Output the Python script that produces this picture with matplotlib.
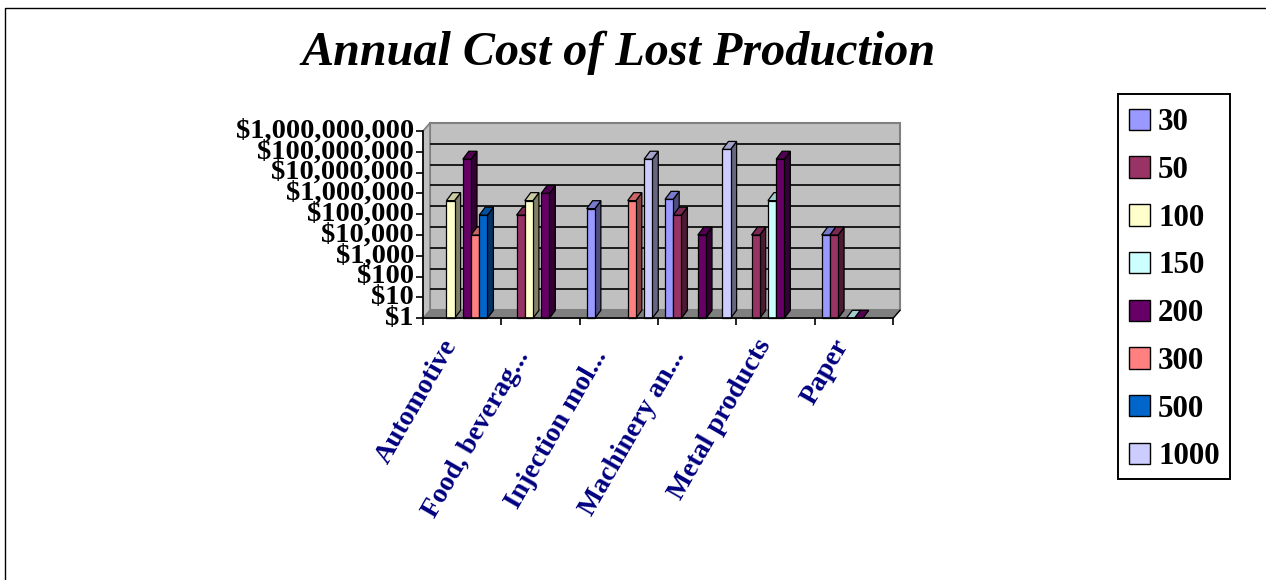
import matplotlib
matplotlib.use("Agg")
import matplotlib.pyplot as plt
import numpy as np
from matplotlib.patches import Polygon, Rectangle
from matplotlib.ticker import FixedLocator, FixedFormatter

categories = ["Automotive", "Food, beverag...", "Injection mol...", "Machinery an...", "Metal products", "Paper"]
series_names = ["30", "50", "100", "150", "200", "300", "500", "1000"]

# None = no bar in that category
s30 = [None, None, 185000, 520000, None, 10000]
s50 = [None, 90000, None, 90000, 10000, 10000]
s100 = [450000, 450000, None, None, None, None]
s150 = [None, None, None, None, 450000, 1]
s200 = [44000000, 1000000, None, 10000, 44000000, 1]
s300 = [10000, None, 450000, None, None, None]
s500 = [90000, None, None, None, None, None]
s1000 = [None, None, 44000000, 130000000, None, None]
all_series = [s30, s50, s100, s150, s200, s300, s500, s1000]

colors = ["#9999FF", "#993366", "#FFFFCC", "#CCFFFF", "#660066", "#FF8080", "#0066CC", "#CCCCFF"]
y_ticks = [10**i for i in range(10)]
y_labels = ["$1", "$10", "$100", "$1,000", "$10,000", "$100,000", "$1,000,000", "$10,000,000", "$100,000,000", "$1,000,000,000"]

W, H = 1266, 580
SERIF = "Liberation Serif"

# front plane of the fake 3d box, in pixels
LEFT, RIGHT, TOP, BOTTOM = 423, 893, 131, 318.3
WALL_DX, WALL_DY = 7, 8
BAR_DX, BAR_DY = 6, 8
BAR_W = 8.2 / 78.33
BAR_START = 7 / 78.33


def shade(color, f):
    rgb = np.array(matplotlib.colors.to_rgb(color))
    return tuple(rgb * f)


fig = plt.figure(figsize=(W / 100, H / 100), dpi=100)
fig.patch.set_facecolor("white")

# outer chart border, only left and top show
fig.add_artist(plt.Line2D([5.0 / W, 5.0 / W, 1], [0, 1 - 7.5 / H, 1 - 7.5 / H], transform=fig.transFigure,
                          color="black", lw=1.0))

fig.text(619 / W, 1 - 53 / H, "Annual Cost of Lost Production", family=SERIF, weight="bold",
         style="italic", fontsize=34.7, ha="center", va="center")

ax = fig.add_axes([LEFT / W, 1 - BOTTOM / H, (RIGHT - LEFT) / W, (BOTTOM - TOP) / H])
ax.set_yscale("log")
ax.set_ylim(1, 1e9)
ax.set_xlim(0, 6)
ax.patch.set_alpha(0)
for name in ["top", "right"]:
    ax.spines[name].set_visible(False)
for name in ["left", "bottom"]:
    ax.spines[name].set_linewidth(1.2)
    ax.spines[name].set_zorder(6)

ax.yaxis.set_major_locator(FixedLocator(y_ticks))
ax.yaxis.set_major_formatter(FixedFormatter(y_labels))
ax.yaxis.set_minor_locator(FixedLocator([]))
ax.tick_params(axis="y", length=5, width=1.2, pad=1.5)
for t in ax.get_yticklabels():
    t.set_fontfamily(SERIF)
    t.set_fontweight("bold")
    t.set_fontsize(20.5)
    t.set_verticalalignment("center")

ax.set_xticks(np.arange(7))
ax.set_xticklabels([])
ax.tick_params(axis="x", length=5, width=1.2)


def to_px(x, y):
    return ax.transData.transform((x, y))


x0, y0 = to_px(0, 1)
x1, y1 = to_px(6, 1e9)

box = [
    # back wall
    Polygon([(x0 + WALL_DX, y0 + WALL_DY), (x1 + WALL_DX, y0 + WALL_DY), (x1 + WALL_DX, y1 + WALL_DY), (x0 + WALL_DX, y1 + WALL_DY)],
            fc="#C0C0C0", ec="#808080", lw=1.5, transform=None),
    # side wall
    Polygon([(x0, y0), (x0 + WALL_DX, y0 + WALL_DY), (x0 + WALL_DX, y1 + WALL_DY), (x0, y1)],
            fc="#C0C0C0", ec="#808080", lw=1.2, transform=None),
    # floor
    Polygon([(x0, y0), (x1, y0), (x1 + WALL_DX, y0 + WALL_DY), (x0 + WALL_DX, y0 + WALL_DY)],
            fc="#808080", ec="#808080", lw=0.8, transform=None),
]
for p in box:
    ax.add_artist(p)
    p.set_clip_on(False)
    p.set_zorder(0.5)

for v in y_ticks[1:-1]:
    _, gy = to_px(0, v)
    ax.plot([x0 + WALL_DX, x1 + WALL_DX], [gy + WALL_DY, gy + WALL_DY], color="black", lw=1.2, transform=None,
            zorder=0.8, clip_on=False, solid_capstyle="butt")

# right end of the axis kicks up to the back wall
ax.plot([x1, x1 + WALL_DX], [y0, y0 + WALL_DY], color="black", lw=1.0, transform=None,
        zorder=6, clip_on=False)

z = 2.0
for cat in range(len(categories)):
    for i, vals in enumerate(all_series):
        v = vals[cat]
        if v is None:
            continue
        x_left = cat + BAR_START + i * BAR_W
        x_right = x_left + BAR_W
        (fx0, fy0) = to_px(x_left, 1)
        (fx1, fy1) = to_px(x_right, v)
        c = colors[i]
        outline = dict(ec="black", lw=0.9)
        parts = [
            Polygon([(fx1, fy0), (fx1 + BAR_DX, fy0 + BAR_DY), (fx1 + BAR_DX, fy1 + BAR_DY), (fx1, fy1)],
                    fc=shade(c, 0.5), transform=None, **outline),
            Polygon([(fx0, fy1), (fx1, fy1), (fx1 + BAR_DX, fy1 + BAR_DY), (fx0 + BAR_DX, fy1 + BAR_DY)],
                    fc=shade(c, 0.8), transform=None, **outline),
        ]
        for p in parts:
            ax.add_artist(p)
            p.set_clip_on(False)
            p.set_zorder(z)
        if v > 1:
            ax.bar(x_left, v - 1, width=BAR_W, bottom=1, align="edge", color=c, edgecolor="black",
                   linewidth=0.9, zorder=z + 0.01, clip_on=False)
        z += 0.02

for k, name in enumerate(categories):
    # truncated labels sit a bit lower and left in the original
    extra_x, extra_y = (-7, 11) if name.endswith("...") else (0, 0)
    lx = to_px(k + 0.5, 1)[0] + 5 - 26 + extra_x
    ly = 332 + 3 + extra_y
    fig.text(lx / W, 1 - ly / H, name, family=SERIF, weight="bold", fontsize=20.0,
             color="#000080", rotation=60, ha="right", va="top", rotation_mode="anchor")

# legend frame drawn separately so the box size can be set exactly
fig.add_artist(Rectangle((1117.5 / W, 1 - 479 / H), 112.5 / W, 385 / H, transform=fig.transFigure,
                         fc="white", ec="black", lw=1.4))
handles = [Rectangle((0, 0), 1, 1, fc=c, ec="black", lw=1.0) for c in colors]
leg = fig.legend(handles, series_names, loc="upper left", bbox_to_anchor=(1115 / W, 1 - 94 / H),
                 bbox_transform=fig.transFigure, borderaxespad=0, frameon=False,
                 prop={"family": SERIF, "weight": "bold", "size": 22.3},
                 handlelength=0.68, handleheight=0.68, handletextpad=0.25,
                 labelspacing=0.605, borderpad=0.46)
leg.set_zorder(5)

fig.savefig("out.png", dpi=100, facecolor="white")
